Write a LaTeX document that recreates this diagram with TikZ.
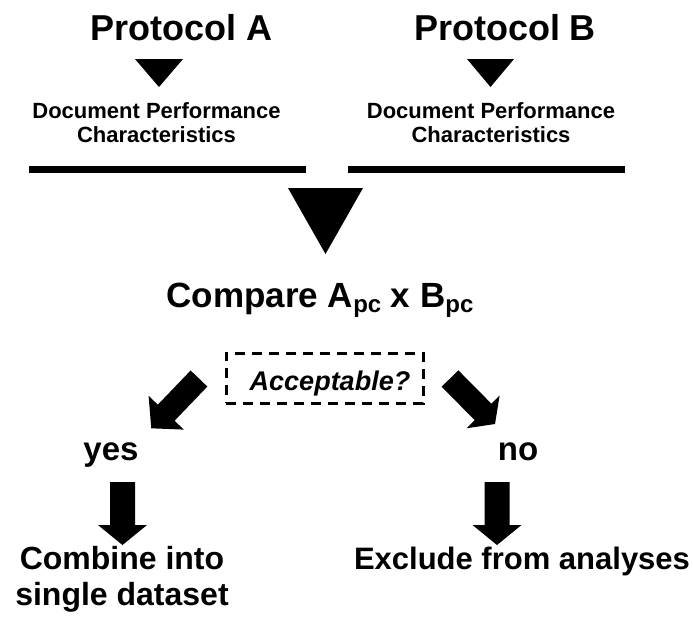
\documentclass[tikz,border=0pt]{standalone}
\usepackage{fontspec}
\setmainfont{Liberation Sans}
\tikzset{
  every node/.style={inner sep=0pt, outer sep=0pt, font=\bfseries},
  big/.style={font=\fontsize{36}{40}\selectfont\bfseries, anchor=base},
  small/.style={font=\fontsize{22}{24}\selectfont\bfseries, align=center, anchor=base},
  mid/.style={font=\fontsize{33}{36}\selectfont\bfseries, anchor=base},
  bar/.style={line width=7pt},
  tri/.style={fill=black},
}
\newcommand\blockarrow[7]{% tail x, tail y, angle, length, head length, shaft half, head half
  \begin{scope}[shift={(#1,#2)}, rotate=#3]
    \fill (0,-#6) -- ({#4-#5},-#6) -- ({#4-#5},-#7) -- (#4,0) -- ({#4-#5},#7) -- ({#4-#5},#6) -- (0,#6) -- cycle;
  \end{scope}}
\begin{document}
\begin{tikzpicture}[x=1pt, y=-1pt]
\useasboundingbox (0,0) rectangle (693,622);
% titles
\node[big] (pa) at (181.5,40) {Protocol A};
\node[big] (pb) at (505,40) {Protocol B};
% small triangles
\fill[tri] (135,59) -- (183,59) -- (159,87) -- cycle;
\fill[tri] (467,59) -- (514,59) -- (490.5,87) -- cycle;
% document performance (base = last line)
\node[small] (da) at (156.5,142) {Document Performance\\Characteristics};
\node[small] (db) at (491,142) {Document Performance\\Characteristics};
% bars
\draw[bar] (29,169.5) -- (306,169.5);
\draw[bar] (348,169.5) -- (625,169.5);
% big triangle
\fill[tri] (288,188) -- (363,188) -- (325.5,254) -- cycle;
% compare
\node[big, font=\fontsize{35}{40}\selectfont\bfseries] (cmp) at (320,307) {Compare A\raisebox{-5pt}{\fontsize{24}{26}\selectfont pc} x B\raisebox{-5pt}{\fontsize{24}{26}\selectfont pc}};
% acceptable box
\node[draw, dash pattern=on 10pt off 7pt, line width=3pt, minimum width=197pt, minimum height=50pt] (box) at (324.5,378) {};
\node[anchor=base, font=\fontsize{27}{30}\selectfont\bfseries\itshape] (acc) at (330,390) {Acceptable?};
% diagonal arrows
\blockarrow{199}{378.5}{226.2}{69}{21.6}{11.6}{24.4}
\blockarrow{450}{378.5}{-45.3}{64}{17}{11.7}{23.3}
% yes / no
\node[mid] (yes) at (111,460) {yes};
\node[mid] (no) at (518,460) {no};
% down arrows
\blockarrow{122.5}{482}{-90}{63}{20}{12.5}{24.5}
\blockarrow{497}{482}{-90}{63}{20}{12.5}{24.5}
% outcomes
\node[mid, font=\fontsize{32}{36}\selectfont\bfseries, align=center] (comb) at (122,605) {Combine into\\single dataset};
\node[mid, font=\fontsize{31}{36}\selectfont\bfseries] (excl) at (522,569) {Exclude from analyses};
\end{tikzpicture}
\end{document}
